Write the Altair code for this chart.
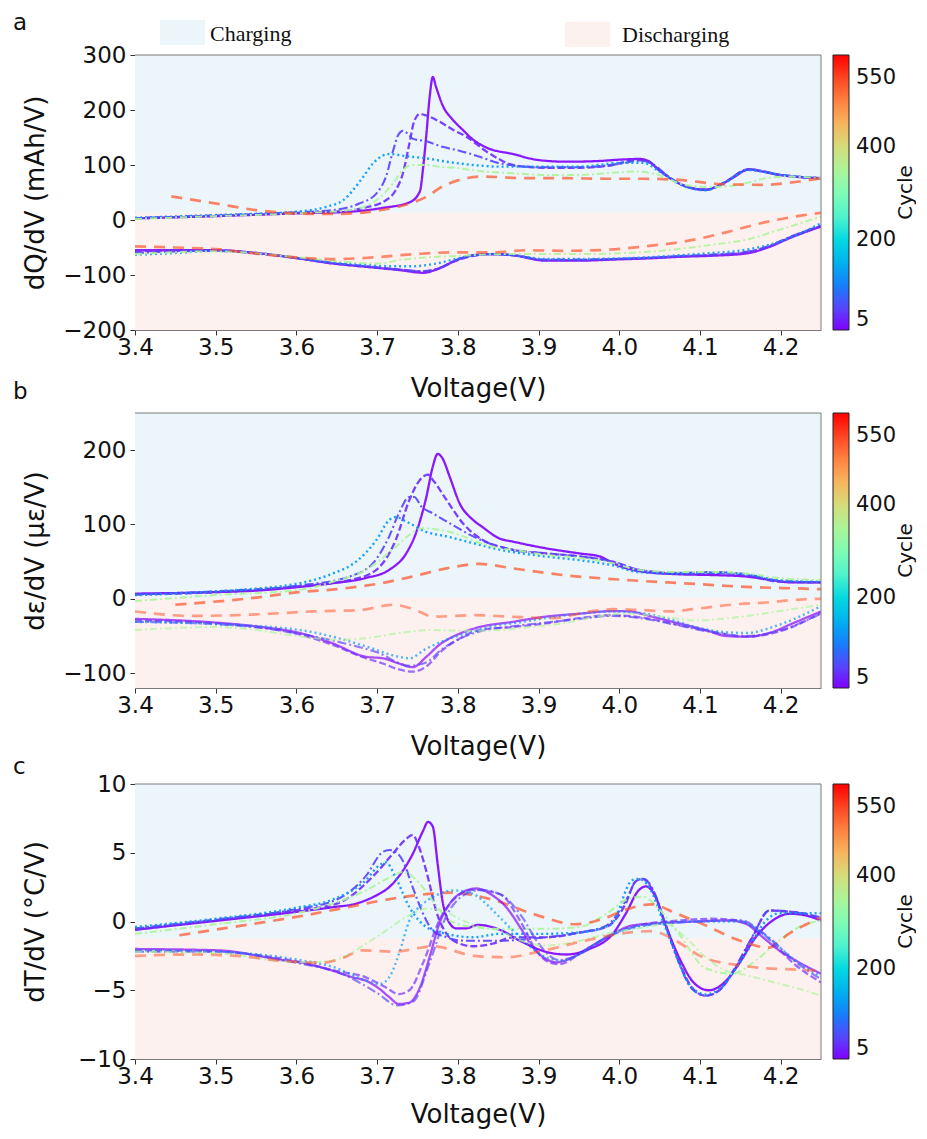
import math
import altair as alt
import pandas as pd

# ---------------- axes, ticks, colour bar ----------------
X_DOMAIN = [3.4, 4.25]
X_TICKS = [3.4, 3.5, 3.6, 3.7, 3.8, 3.9, 4.0, 4.1, 4.2]
CYCLES = [5, 25, 50, 125, 350, 540]
CBAR_DOMAIN = [5, 600]
CBAR_TICKS = [5, 200, 400, 550]

A_YDOMAIN = [-200, 300]
A_YTICKS = [-200, -100, 0, 100, 200, 300]
A_SPLIT = 13
B_YDOMAIN = [-120, 250]
B_YTICKS = [-100, 0, 100, 200]
B_SPLIT = 1
C_YDOMAIN = [-10, 10]
C_YTICKS = [-10, -5, 0, 5, 10]
C_SPLIT = -1.2

# ---------------- panel a : dQ/dV, charge ----------------
A_CHG_5 = [[3.40, 3], [3.50, 7], [3.60, 12], [3.666, 15], [3.707, 22], [3.74, 32], [3.753, 52], [3.757, 95],
           [3.761, 155], [3.765, 222], [3.769, 260], [3.773, 242], [3.781, 209], [3.794, 182], [3.806, 164],
           [3.819, 146], [3.835, 132], [3.868, 120], [3.90, 109], [3.934, 106], [3.971, 107], [4.004, 110],
           [4.025, 111], [4.035, 108], [4.049, 91], [4.066, 73], [4.083, 61], [4.107, 55], [4.124, 63],
           [4.14, 76], [4.161, 92], [4.178, 88], [4.198, 82], [4.223, 78], [4.25, 76]]
A_CHG_25 = [[3.40, 3], [3.50, 8], [3.60, 13], [3.645, 15], [3.686, 23], [3.711, 36], [3.723, 54], [3.732, 85],
            [3.740, 139], [3.746, 180], [3.753, 193], [3.761, 190], [3.777, 179], [3.794, 164], [3.810, 152],
            [3.835, 125], [3.852, 110], [3.868, 100], [3.909, 95], [3.951, 95], [3.992, 100], [4.02, 109],
            [4.035, 107], [4.05, 90], [4.08, 63], [4.107, 55], [4.13, 68], [4.16, 92], [4.2, 82], [4.25, 76]]
A_CHG_50 = [[3.40, 3], [3.50, 8], [3.60, 14], [3.645, 18], [3.678, 30], [3.699, 48], [3.711, 79], [3.720, 127],
            [3.726, 154], [3.732, 162], [3.738, 157], [3.744, 148], [3.761, 143], [3.781, 133], [3.802, 126],
            [3.827, 115], [3.852, 103], [3.90, 96], [3.95, 96], [4.0, 102], [4.025, 108], [4.04, 103],
            [4.06, 80], [4.08, 62], [4.107, 55], [4.13, 68], [4.16, 92], [4.2, 82], [4.25, 76]]
A_CHG_125 = [[3.40, 4], [3.50, 9], [3.60, 15], [3.637, 24], [3.658, 36], [3.670, 54], [3.683, 79], [3.695, 103],
             [3.707, 117], [3.715, 120], [3.736, 116], [3.761, 112], [3.786, 106], [3.819, 100], [3.852, 97],
             [3.90, 97], [3.95, 97], [4.004, 104], [4.03, 104], [4.05, 88], [4.08, 62], [4.107, 54],
             [4.13, 67], [4.16, 91], [4.2, 82], [4.25, 76]]
A_CHG_350 = [[3.40, 2], [3.50, 7], [3.60, 12], [3.666, 18], [3.699, 36], [3.720, 67], [3.732, 91], [3.744, 100],
             [3.761, 100], [3.777, 97], [3.802, 94], [3.827, 89], [3.868, 85], [3.909, 82], [3.951, 82],
             [3.992, 86], [4.02, 88], [4.049, 82], [4.074, 67], [4.107, 60], [4.132, 61], [4.157, 67],
             [4.182, 76], [4.207, 79], [4.25, 76]]
A_CHG_540 = [[3.445, 43], [3.50, 30], [3.55, 18], [3.60, 12], [3.65, 11], [3.70, 17], [3.74, 30], [3.761, 42],
             [3.781, 61], [3.80, 72], [3.83, 79], [3.885, 76], [3.934, 76], [3.984, 75], [4.03, 75],
             [4.074, 73], [4.128, 65], [4.178, 64], [4.223, 70], [4.25, 76]]

# ---------------- panel a : dQ/dV, discharge ----------------
A_DIS_5 = [[3.40, -55], [3.50, -55], [3.55, -60], [3.604, -70], [3.645, -79], [3.686, -85], [3.727, -91],
           [3.757, -96], [3.777, -88], [3.798, -73], [3.819, -64], [3.844, -62], [3.868, -64], [3.909, -74],
           [3.951, -74], [3.992, -72], [4.033, -70], [4.074, -67], [4.115, -65], [4.157, -61], [4.186, -49],
           [4.211, -33], [4.25, -12]]
A_DIS_25 = [[3.40, -57], [3.50, -55], [3.55, -60], [3.604, -70], [3.645, -79], [3.686, -85], [3.727, -90],
            [3.757, -94], [3.777, -88], [3.798, -74], [3.819, -65], [3.844, -62], [3.868, -64], [3.909, -73],
            [3.951, -73], [3.992, -71], [4.033, -69], [4.074, -66], [4.115, -64], [4.157, -59], [4.186, -48],
            [4.211, -32], [4.25, -11]]
A_DIS_50 = [[3.40, -60], [3.50, -56], [3.55, -61], [3.604, -70], [3.645, -78], [3.686, -84], [3.727, -90],
            [3.757, -93], [3.777, -87], [3.798, -73], [3.819, -65], [3.844, -62], [3.868, -64], [3.909, -72],
            [3.951, -72], [3.992, -71], [4.033, -69], [4.074, -66], [4.115, -63], [4.157, -58], [4.186, -47],
            [4.211, -31], [4.25, -10]]
A_DIS_125 = [[3.40, -63], [3.45, -60], [3.50, -56], [3.55, -60], [3.604, -69], [3.645, -77], [3.686, -82],
             [3.72, -84], [3.745, -84], [3.77, -80], [3.80, -70], [3.82, -64], [3.844, -62], [3.868, -64],
             [3.909, -71], [3.951, -71], [3.992, -70], [4.033, -68], [4.074, -64], [4.115, -60], [4.157, -54],
             [4.2, -39], [4.25, -6]]
A_DIS_350 = [[3.40, -62], [3.50, -57], [3.604, -68], [3.66, -76], [3.703, -79], [3.727, -73], [3.761, -68],
             [3.802, -65], [3.852, -62], [3.951, -62], [4.033, -58], [4.115, -45], [4.157, -36], [4.198, -18],
             [4.25, 6]]
A_DIS_540 = [[3.40, -48], [3.45, -50], [3.50, -53], [3.55, -61], [3.60, -68], [3.65, -71], [3.695, -68],
             [3.747, -62], [3.792, -59], [3.842, -59], [3.886, -55], [3.93, -56], [3.987, -54], [4.031, -48],
             [4.081, -39], [4.131, -23], [4.175, -6], [4.225, 8], [4.25, 13]]

# ---------------- panel b : de/dV, charge ----------------
B_CHG_5 = [[3.40, 7], [3.50, 9], [3.55, 11], [3.604, 16], [3.645, 21], [3.686, 28], [3.715, 39], [3.736, 61],
           [3.748, 88], [3.761, 137], [3.769, 178], [3.775, 195], [3.781, 189], [3.790, 164], [3.802, 129],
           [3.819, 106], [3.83, 97], [3.852, 81], [3.868, 77], [3.909, 68], [3.951, 61], [3.976, 57],
           [3.992, 48], [4.016, 39], [4.033, 36], [4.074, 33], [4.115, 32], [4.157, 30], [4.19, 25],
           [4.214, 22], [4.25, 22]]
B_CHG_25 = [[3.40, 6], [3.50, 9], [3.604, 17], [3.666, 25], [3.699, 39], [3.723, 79], [3.740, 133], [3.753, 160],
            [3.763, 167], [3.769, 160], [3.786, 133], [3.806, 102], [3.831, 79], [3.852, 70], [3.868, 66],
            [3.909, 61], [3.951, 57], [3.992, 50], [4.024, 39], [4.074, 34], [4.115, 35], [4.157, 32],
            [4.198, 23], [4.25, 22]]
B_CHG_50 = [[3.40, 6], [3.50, 10], [3.604, 18], [3.666, 30], [3.695, 48], [3.715, 84], [3.727, 115],
            [3.740, 137], [3.746, 137], [3.755, 124], [3.769, 115], [3.794, 99], [3.819, 84], [3.852, 70],
            [3.868, 66], [3.909, 61], [3.951, 57], [3.992, 50], [4.024, 39], [4.074, 35], [4.115, 36],
            [4.157, 33], [4.198, 24], [4.25, 22]]
B_CHG_125 = [[3.40, 5], [3.50, 10], [3.604, 21], [3.645, 34], [3.674, 50], [3.699, 79], [3.715, 106],
             [3.723, 110], [3.736, 104], [3.761, 90], [3.786, 84], [3.819, 75], [3.852, 66], [3.868, 63],
             [3.909, 57], [3.951, 52], [3.992, 45], [4.024, 36], [4.074, 34], [4.115, 35], [4.157, 33],
             [4.198, 25], [4.25, 23]]
B_CHG_350 = [[3.40, -3], [3.50, 5], [3.604, 12], [3.645, 23], [3.686, 39], [3.719, 66], [3.740, 86],
             [3.757, 95], [3.777, 93], [3.802, 86], [3.827, 75], [3.852, 68], [3.868, 66], [3.909, 59],
             [3.951, 55], [3.992, 48], [4.024, 39], [4.074, 36], [4.115, 36], [4.157, 34], [4.198, 28],
             [4.25, 25]]
B_CHG_540 = [[3.45, -8], [3.507, -3], [3.553, 2], [3.603, 9], [3.65, 13], [3.70, 20], [3.744, 30], [3.786, 41],
             [3.827, 47], [3.868, 41], [3.93, 32], [4.013, 25], [4.095, 20], [4.157, 16], [4.219, 14],
             [4.25, 13]]

# ---------------- panel b : de/dV, discharge ----------------
B_DIS_5 = [[3.40, -27], [3.50, -32], [3.55, -37], [3.604, -46], [3.645, -60], [3.686, -78], [3.707, -80],
           [3.727, -87], [3.744, -92], [3.761, -78], [3.777, -62], [3.802, -47], [3.827, -38], [3.868, -31],
           [3.909, -24], [3.951, -20], [3.992, -16.5], [4.012, -17], [4.041, -24], [4.074, -33], [4.107, -42],
           [4.132, -50], [4.157, -51], [4.186, -46], [4.215, -33], [4.25, -17]]
B_DIS_25 = [[3.40, -29], [3.50, -33], [3.604, -48], [3.645, -62], [3.686, -80], [3.707, -87], [3.727, -95],
            [3.744, -98], [3.761, -91], [3.78, -70], [3.80, -55], [3.827, -42], [3.868, -38], [3.909, -33],
            [3.951, -26], [3.992, -22], [4.033, -26], [4.074, -35], [4.115, -44], [4.157, -51], [4.198, -44],
            [4.25, -19]]
B_DIS_50 = [[3.40, -31], [3.50, -34], [3.604, -47], [3.66, -60], [3.70, -72], [3.74, -90], [3.76, -86],
            [3.78, -68], [3.80, -55], [3.827, -44], [3.868, -37], [3.909, -32], [3.951, -27], [3.992, -23],
            [4.033, -27], [4.074, -36], [4.115, -45], [4.157, -50], [4.198, -43], [4.25, -20]]
B_DIS_125 = [[3.40, -31], [3.50, -34], [3.604, -42], [3.645, -51], [3.686, -64], [3.727, -78], [3.74, -80],
             [3.761, -67], [3.786, -55], [3.819, -44], [3.852, -35], [3.868, -33], [3.909, -26], [3.951, -20],
             [3.992, -17], [4.033, -20], [4.058, -26], [4.095, -38], [4.124, -44], [4.157, -46], [4.198, -35],
             [4.25, -10]]
B_DIS_350 = [[3.40, -42], [3.50, -38], [3.55, -42], [3.60, -50], [3.653, -55], [3.686, -53], [3.727, -46],
             [3.769, -42], [3.81, -43], [3.852, -42], [3.889, -38], [3.93, -33], [3.971, -24], [4.012, -20],
             [4.054, -24], [4.095, -29], [4.136, -26], [4.178, -20], [4.219, -13], [4.25, -8]]
B_DIS_540 = [[3.40, -17], [3.47, -23], [3.55, -21], [3.62, -17], [3.68, -15], [3.72, -8], [3.745, -14],
             [3.77, -24], [3.82, -22], [3.864, -24], [3.918, -26], [3.964, -17], [3.992, -14], [4.024, -15],
             [4.066, -17], [4.091, -14], [4.149, -7], [4.182, -5], [4.223, -1], [4.25, 0]]

# ---------------- panel c : dT/dV, charge ----------------
C_CHG_5 = [[3.40, -0.6], [3.504, 0.07], [3.60, 0.7], [3.645, 1.04], [3.674, 1.3], [3.699, 1.9], [3.715, 2.5],
           [3.732, 3.7], [3.744, 4.9], [3.757, 6.6], [3.763, 7.25], [3.769, 6.9], [3.775, 4.2], [3.781, 1.5],
           [3.788, 0.07], [3.798, -0.5], [3.81, -0.5], [3.825, -0.25], [3.852, -0.6], [3.877, -1.4],
           [3.909, -2.2], [3.934, -2.4], [3.963, -2.0], [3.992, -0.9], [4.008, 0.56], [4.024, 2.26],
           [4.033, 2.55], [4.045, 1.8], [4.057, -0.17], [4.074, -2.6], [4.094, -4.55], [4.111, -5.0],
           [4.128, -4.55], [4.148, -3.1], [4.169, -1.15], [4.19, 0.07], [4.211, 0.56], [4.231, 0.44],
           [4.25, 0.07]]
C_CHG_25 = [[3.40, -0.6], [3.50, 0.1], [3.60, 0.8], [3.65, 1.3], [3.70, 3.6], [3.719, 4.9], [3.736, 6.0],
            [3.744, 6.3], [3.752, 5.4], [3.763, 3.2], [3.773, 0.8], [3.786, -0.9], [3.798, -1.5], [3.819, -1.8],
            [3.844, -1.6], [3.868, -1.15], [3.909, -1.15], [3.951, -0.8], [3.984, -0.4], [4.008, 1.3],
            [4.020, 2.9], [4.029, 3.1], [4.041, 2.3], [4.057, -0.17], [4.074, -2.9], [4.09, -4.8],
            [4.107, -5.4], [4.124, -5.0], [4.144, -3.4], [4.165, -1.15], [4.186, 0.8], [4.207, 0.73],
            [4.227, 0.6], [4.25, 0.16]]
C_CHG_50 = [[3.40, -0.5], [3.50, 0.15], [3.60, 0.9], [3.65, 1.6], [3.686, 3.3], [3.707, 5.06], [3.715, 5.2],
            [3.723, 5.06], [3.732, 4.4], [3.744, 2.5], [3.757, 0.56], [3.769, -0.66], [3.786, -1.15],
            [3.81, -1.4], [3.852, -1.4], [3.90, -1.2], [3.951, -0.8], [3.984, -0.3], [4.008, 1.5],
            [4.022, 3.0], [4.03, 3.1], [4.042, 2.3], [4.057, -0.2], [4.074, -3.0], [4.09, -4.9],
            [4.107, -5.4], [4.124, -5.0], [4.144, -3.3], [4.165, -1.1], [4.186, 0.8], [4.207, 0.75],
            [4.25, 0.3]]
C_CHG_125 = [[3.40, -0.4], [3.50, 0.2], [3.60, 1.0], [3.645, 1.6], [3.686, 3.0], [3.703, 4.1], [3.711, 4.3],
             [3.723, 3.2], [3.74, 1.04], [3.761, -0.4], [3.786, -0.9], [3.819, -1.15], [3.852, -0.9],
             [3.90, -0.9], [3.951, -0.8], [3.99, -0.2], [4.016, 3.0], [4.024, 3.1], [4.037, 2.5],
             [4.057, -0.4], [4.09, -4.8], [4.107, -5.3], [4.124, -4.9], [4.157, -2.3], [4.182, 0.07],
             [4.198, 0.6], [4.25, 0.6]]
C_CHG_350 = [[3.40, -0.9], [3.50, -0.2], [3.60, 0.6], [3.645, 1.3], [3.686, 2.26], [3.715, 3.2], [3.732, 3.6],
             [3.749, 3.0], [3.769, 1.5], [3.79, 0.07], [3.819, -0.4], [3.852, -0.53], [3.909, -0.53],
             [3.951, -0.4], [3.984, 0.56], [4.012, 1.66], [4.029, 1.8], [4.049, 0.93], [4.074, -0.9],
             [4.107, -3.4], [4.14, -3.8], [4.169, -2.85], [4.198, -1.39], [4.223, -0.4], [4.25, 0.07]]
C_CHG_540 = [[3.455, -1.0], [3.51, -0.5], [3.56, -0.05], [3.61, 0.44], [3.66, 1.0], [3.703, 1.5], [3.747, 1.9],
             [3.792, 2.1], [3.842, 1.6], [3.896, 0.5], [3.946, -0.2], [3.98, 0.2], [4.01, 0.9], [4.04, 1.25],
             [4.07, 0.6], [4.10, -0.1], [4.15, -1.4], [4.185, -1.9], [4.21, -0.9], [4.25, 0.3]]

# ---------------- panel c : dT/dV, discharge ----------------
C_DIS_5 = [[3.40, -2.0], [3.504, -2.1], [3.587, -2.85], [3.604, -2.97], [3.645, -3.58], [3.67, -4.06],
           [3.686, -4.3], [3.703, -4.9], [3.715, -5.5], [3.727, -6.0], [3.74, -5.9], [3.753, -4.8],
           [3.765, -2.6], [3.777, -0.17], [3.79, 1.29], [3.806, 2.14], [3.823, 2.4], [3.843, 1.9],
           [3.86, 1.04], [3.877, -0.4], [3.893, -1.88], [3.909, -2.72], [3.922, -2.97], [3.938, -2.72],
           [3.963, -1.88], [3.992, -0.9], [4.016, -0.29], [4.053, -0.11], [4.094, 0.0], [4.136, 0.07],
           [4.157, -0.17], [4.178, -1.15], [4.198, -2.1], [4.219, -2.85], [4.25, -3.8]]
C_DIS_25 = [[3.40, -2.1], [3.50, -2.2], [3.60, -2.9], [3.65, -3.6], [3.686, -4.06], [3.711, -4.8],
            [3.727, -5.28], [3.74, -5.0], [3.757, -3.0], [3.777, 0.07], [3.798, 1.77], [3.819, 2.3],
            [3.852, 2.0], [3.877, 0.07], [3.897, -2.1], [3.913, -2.97], [3.926, -3.1], [3.951, -2.36],
            [3.992, -0.9], [4.033, -0.17], [4.074, 0.07], [4.115, 0.2], [4.148, 0.07], [4.178, -0.9],
            [4.219, -3.2], [4.25, -4.43]]
C_DIS_50 = [[3.40, -2.2], [3.50, -2.2], [3.60, -3.0], [3.66, -3.9], [3.70, -5.2], [3.725, -6.1], [3.745, -5.8],
            [3.765, -3.0], [3.785, 0.3], [3.81, 2.0], [3.83, 2.3], [3.855, 1.9], [3.88, 0.3], [3.90, -1.6],
            [3.925, -2.8], [3.95, -2.4], [3.99, -1.0], [4.03, -0.3], [4.10, 0.0], [4.15, 0.1], [4.18, -0.9],
            [4.22, -3.0], [4.25, -4.2]]
C_DIS_125 = [[3.40, -2.1], [3.50, -2.2], [3.604, -2.8], [3.645, -3.3], [3.686, -4.3], [3.703, -4.55],
             [3.715, -4.06], [3.727, -2.36], [3.74, 0.07], [3.757, 1.29], [3.773, 1.9], [3.794, 2.26],
             [3.819, 2.0], [3.835, 1.29], [3.852, 0.3], [3.877, -1.15], [3.909, -2.6], [3.93, -2.85],
             [3.963, -1.88], [3.992, -0.9], [4.03, -0.3], [4.10, 0.0], [4.15, 0.0], [4.18, -1.0],
             [4.22, -2.9], [4.25, -4.0]]
C_DIS_350 = [[3.40, -2.2], [3.50, -2.3], [3.604, -2.97], [3.645, -2.85], [3.666, -2.36], [3.686, -1.63],
             [3.711, -0.66], [3.736, 0.32], [3.761, 0.93], [3.781, 0.8], [3.802, 0.2], [3.827, -0.4],
             [3.852, -0.66], [3.868, -1.15], [3.909, -1.75], [3.951, -1.4], [3.992, -0.8], [4.033, -0.4],
             [4.057, -0.17], [4.082, -1.15], [4.107, -2.6], [4.132, -3.58], [4.157, -3.9], [4.19, -4.4],
             [4.223, -4.9], [4.25, -5.4]]
C_DIS_540 = [[3.40, -2.5], [3.47, -2.4], [3.526, -2.5], [3.58, -2.85], [3.63, -3.0], [3.66, -2.6], [3.68, -2.1],
             [3.72, -2.2], [3.77, -1.8], [3.82, -2.5], [3.86, -2.6], [3.90, -2.2], [3.95, -1.5], [4.0, -0.9],
             [4.04, -0.7], [4.07, -1.4], [4.10, -2.5], [4.15, -3.2], [4.18, -3.4], [4.22, -3.5], [4.25, -3.6]]

CURVES = {
    "a": {"charge": [A_CHG_5, A_CHG_25, A_CHG_50, A_CHG_125, A_CHG_350, A_CHG_540],
          "discharge": [A_DIS_5, A_DIS_25, A_DIS_50, A_DIS_125, A_DIS_350, A_DIS_540]},
    "b": {"charge": [B_CHG_5, B_CHG_25, B_CHG_50, B_CHG_125, B_CHG_350, B_CHG_540],
          "discharge": [B_DIS_5, B_DIS_25, B_DIS_50, B_DIS_125, B_DIS_350, B_DIS_540]},
    "c": {"charge": [C_CHG_5, C_CHG_25, C_CHG_50, C_CHG_125, C_CHG_350, C_CHG_540],
          "discharge": [C_DIS_5, C_DIS_25, C_DIS_50, C_DIS_125, C_DIS_350, C_DIS_540]},
}

# ---------------- styles ----------------
FONT = "DejaVu Sans"
SERIF = "Liberation Serif"
FRAME = "#7a7a7a"
TICK = "#333333"
BLUE = "#ecf5fa"
PINK = "#fdf1f0"
W, H = 686, 275
LABEL_SIZE = 23

STYLE_NAMES = ["solid", "dashed", "dashdot", "dotted", "dashdot2", "dashed2"]
DASHES = [[1, 0], [7, 3], [9, 3, 2, 3], [2, 3], [7, 3, 2, 3], [11, 8]]
WIDTHS = [2.3, 2.3, 2.1, 2.4, 2.0, 2.7]
STYLE_OPACITY = [1.0, 1.0, 1.0, 1.0, 1.0, 0.78]
DIS_OPACITY = {"a": 0.85, "b": 0.68, "c": 0.68}


def rainbow(t):
    r = abs(2 * t - 0.5)
    g = math.sin(math.pi * t)
    b = math.cos(math.pi * t / 2)
    return "#%02x%02x%02x" % tuple(int(round(max(0.0, min(1.0, c)) * 255)) for c in (r, g, b))


NSTOP = 12
C_STOPS = [CBAR_DOMAIN[0] + (CBAR_DOMAIN[1] - CBAR_DOMAIN[0]) * i / (NSTOP - 1) for i in range(NSTOP)]
C_COLORS = [rainbow(i / (NSTOP - 1)) for i in range(NSTOP)]

rows = []
for pk, phases in CURVES.items():
    for phase, curves in phases.items():
        for i, pts in enumerate(curves):
            base = 0.9 if phase == "charge" else DIS_OPACITY[pk]
            for v, val in pts:
                rows.append({"panel": pk, "phase": phase, "cycle": CYCLES[i], "style": STYLE_NAMES[i],
                             "lw": WIDTHS[i], "op": base * STYLE_OPACITY[i],
                             "curve": f"{phase}-{CYCLES[i]}", "v": v, "val": val})
DF = pd.DataFrame(rows)
ONE = pd.DataFrame({"k": [0]})


def panel(key, ydom, yticks, split, ytitle, label, label_top, top, xtitle_y):
    Hc = H + top
    d = DF[DF.panel == key]
    yscale = alt.Scale(domain=ydom, nice=False, zero=False, range=[Hc, top])
    yaxis = alt.Axis(values=yticks, title=ytitle, grid=False, labelFontSize=23,
                     titleFontSize=26, titleFontWeight="normal", labelFont=FONT, titleFont=FONT,
                     labelColor="#111", titleColor="#111", tickSize=5, tickColor=TICK,
                     labelPadding=4, domainColor=FRAME, titleX=-100, titleY=top + H / 2,
                     titleBaseline="middle", labelFlush=False)
    bg = pd.DataFrame({"lo": [split, ydom[0]], "hi": [ydom[1], split], "fill": [BLUE, PINK]})
    rect = alt.Chart(bg).mark_rect().encode(
        x=alt.value(0), x2=alt.value(W),
        y=alt.Y("lo:Q", scale=yscale, axis=yaxis), y2="hi:Q",
        fill=alt.Fill("fill:N", scale=None))
    lines = alt.Chart(d).mark_line(interpolate="monotone", clip=True).encode(
        x=alt.X("v:Q", scale=alt.Scale(domain=X_DOMAIN, nice=False, zero=False),
                axis=alt.Axis(values=X_TICKS, format=".1f", title="Voltage(V)", grid=False,
                              labelFontSize=23, titleFontSize=26, titleFontWeight="normal",
                              labelFont=FONT, titleFont=FONT, labelColor="#111", titleColor="#111",
                              tickSize=5, tickColor=TICK, labelPadding=1, domainColor=FRAME,
                              titleY=xtitle_y, titleBaseline="middle", labelFlush=False)),
        y=alt.Y("val:Q", scale=yscale, axis=yaxis),
        color=alt.Color("cycle:Q", scale=alt.Scale(domain=C_STOPS, range=C_COLORS, type="linear"),
                        legend=alt.Legend(orient="none", legendX=W + 12, legendY=top, direction="vertical",
                                          gradientLength=H, gradientThickness=16, title=None,
                                          values=CBAR_TICKS, labelFontSize=21, labelFont=FONT,
                                          labelColor="#111", labelOffset=7, labelBaseline="middle",
                                          labelOverlap=False, gradientStrokeColor="#222",
                                          gradientStrokeWidth=1)),
        strokeDash=alt.StrokeDash("style:N", scale=alt.Scale(domain=STYLE_NAMES, range=DASHES), legend=None),
        strokeWidth=alt.StrokeWidth("lw:Q", scale=None),
        opacity=alt.Opacity("op:Q", scale=None),
        detail="curve:N")
    frame_top = alt.Chart(ONE).mark_rule(color=FRAME, strokeWidth=1).encode(
        x=alt.value(0), x2=alt.value(W), y=alt.value(top))
    frame_right = alt.Chart(ONE).mark_rule(color=FRAME, strokeWidth=1).encode(
        x=alt.value(W), y=alt.value(top), y2=alt.value(Hc))
    lab = alt.Chart(ONE).mark_text(text=label, fontSize=LABEL_SIZE, font=FONT, align="left", baseline="top",
                                   color="#111").encode(x=alt.value(-122), y=alt.value(label_top))
    cyc = alt.Chart(ONE).mark_text(text="Cycle", fontSize=20, font=FONT, angle=270, align="center",
                                   baseline="middle", color="#111").encode(
        x=alt.value(W + 85), y=alt.value(top + H / 2))
    layers = [rect, lines, frame_top, frame_right, lab, cyc]
    if key == "a":
        layers += [
            alt.Chart(ONE).mark_rect(color=BLUE).encode(x=alt.value(25), x2=alt.value(70),
                                                        y=alt.value(-35), y2=alt.value(-10)),
            alt.Chart(ONE).mark_text(text="Charging", font=SERIF, fontSize=22, align="left",
                                     baseline="alphabetic", color="#111").encode(
                x=alt.value(75), y=alt.value(-14)),
            alt.Chart(ONE).mark_rect(color=PINK).encode(x=alt.value(430), x2=alt.value(475),
                                                        y=alt.value(-33), y2=alt.value(-8)),
            alt.Chart(ONE).mark_text(text="Discharging", font=SERIF, fontSize=22, align="left",
                                     baseline="alphabetic", color="#111").encode(
                x=alt.value(487), y=alt.value(-13)),
        ]
    return alt.layer(*layers).properties(width=W, height=Hc)


pa = panel("a", A_YDOMAIN, A_YTICKS, A_SPLIT, "dQ/dV (mAh/V)", "a", -43, 0, 58)
pb = panel("b", B_YDOMAIN, B_YTICKS, B_SPLIT, "dε/dV (με/V)", "b", -32, 0, 58)
pc = panel("c", C_YDOMAIN, C_YTICKS, C_SPLIT, "dT/dV (°C/V)", "c", -15, 13, 55)

chart = (
    alt.vconcat(pa, pb, pc, spacing=83, bounds="flush")
    .resolve_scale(color="independent")
    .resolve_legend(color="independent")
    .properties(padding={"left": 5, "top": 4, "right": 0, "bottom": 3})
    .configure(font=FONT)
    .configure_view(strokeWidth=0)
)

chart.save("out.html", embed_options={"renderer": "svg", "actions": False})
